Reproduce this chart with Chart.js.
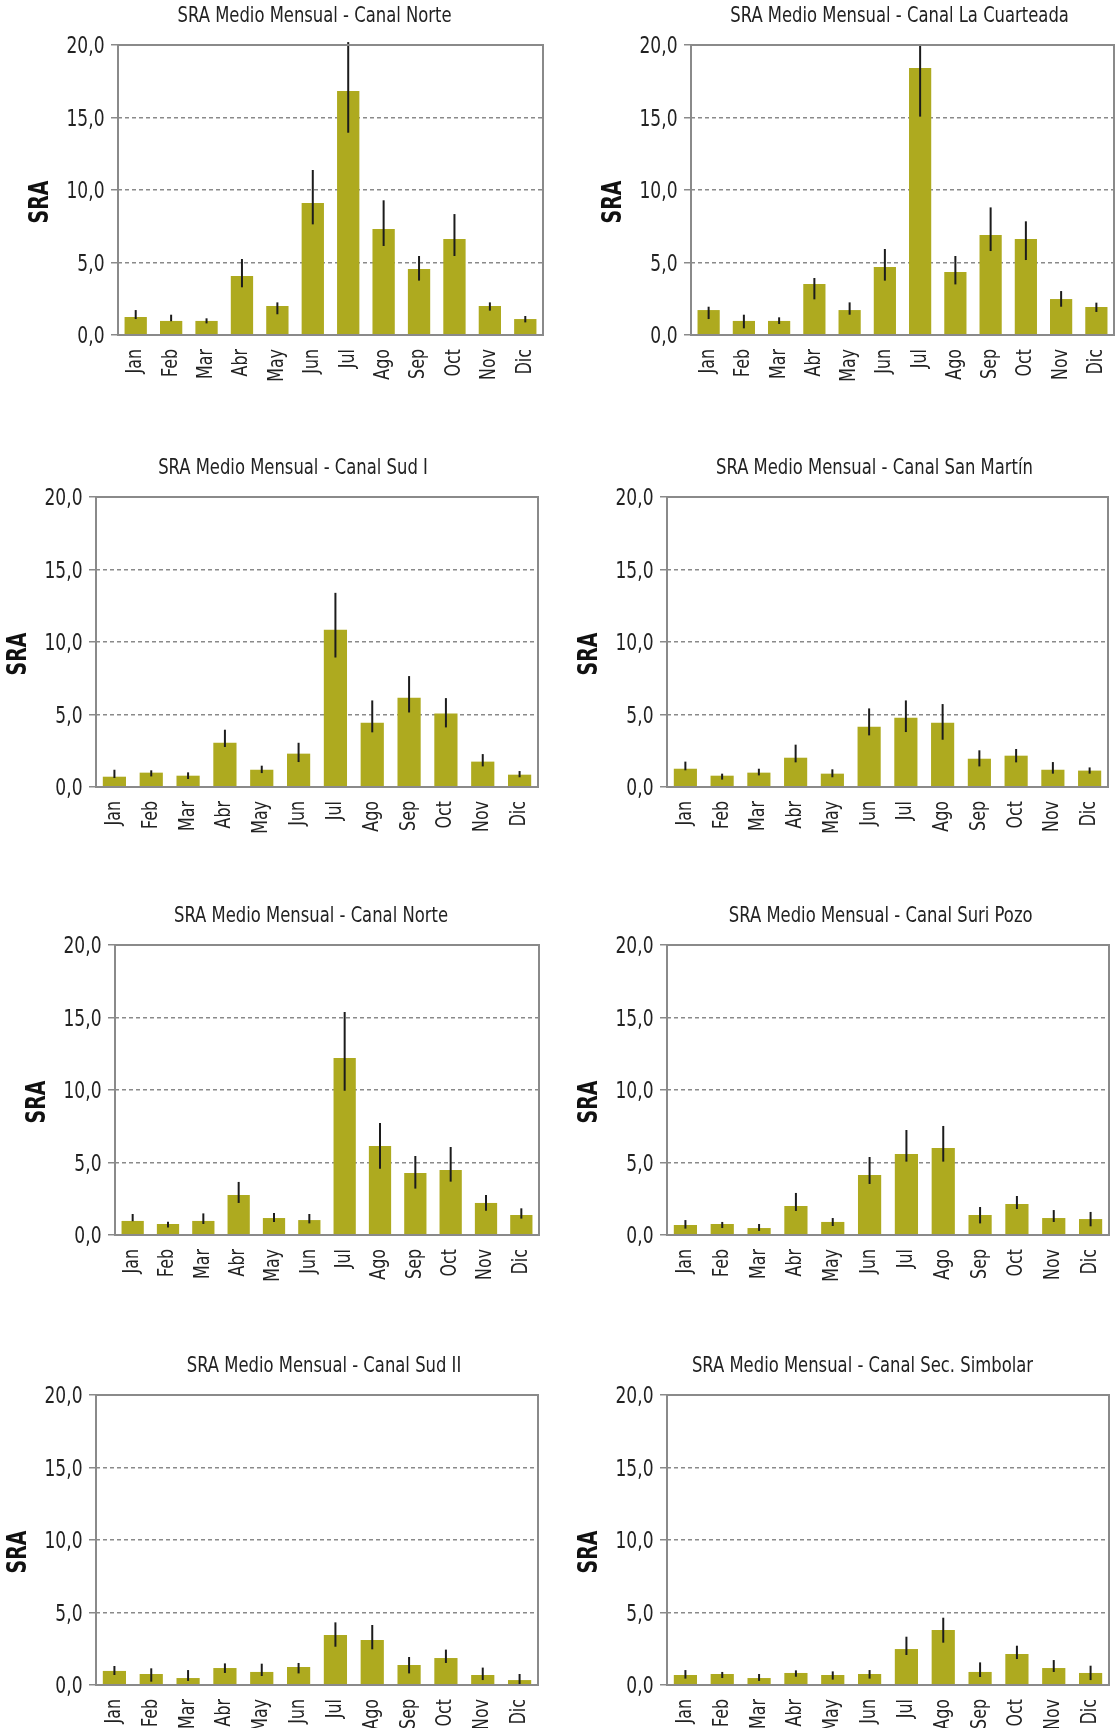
<!DOCTYPE html>
<html>
<head>
<meta charset="utf-8">
<script src="https://cdn.jsdelivr.net/npm/chart.js@4.4.1/dist/chart.umd.min.js"></script>
<style>
  html, body { margin: 0; padding: 0; background: #fff; }
  #wrap { position: relative; width: 1116px; height: 1728px; overflow: hidden; }
  canvas { position: absolute; }
</style>
</head>
<body>
<div id="wrap"></div>
<script>
// ---- data ----
const months = ['Jan', 'Feb', 'Mar', 'Abr', 'May', 'Jun', 'Jul', 'Ago', 'Sep', 'Oct', 'Nov', 'Dic'];
const yTicks = [0, 5, 10, 15, 20];

const titles = [
    'SRA Medio Mensual - Canal Norte',
    'SRA Medio Mensual - Canal La Cuarteada',
    'SRA Medio Mensual - Canal Sud I',
    'SRA Medio Mensual - Canal San Martín',
    'SRA Medio Mensual - Canal Norte',
    'SRA Medio Mensual - Canal Suri Pozo',
    'SRA Medio Mensual - Canal Sud II',
    'SRA Medio Mensual - Canal Sec. Simbolar'
];

const mediaNorte = [1.24, 0.97, 0.97, 4.07, 2.0, 9.1, 16.83, 7.31, 4.55, 6.62, 2.0, 1.10];
const altoNorte  = [1.72, 1.40, 1.15, 5.24, 2.25, 11.38, 20.2, 9.29, 5.45, 8.34, 2.25, 1.31];
const bajoNorte  = [1.10, 0.95, 0.80, 3.29, 1.43, 7.63, 13.95, 6.14, 3.75, 5.45, 1.68, 0.87];

const mediaCuarteada = [1.72, 0.97, 0.97, 3.52, 1.72, 4.69, 18.41, 4.34, 6.90, 6.62, 2.48, 1.93];
const altoCuarteada  = [1.95, 1.40, 1.22, 3.93, 2.25, 5.93, 20.0, 5.45, 8.80, 7.84, 3.03, 2.23];
const bajoCuarteada  = [1.10, 0.46, 0.76, 2.46, 1.40, 3.75, 15.06, 3.49, 5.79, 5.17, 1.95, 1.59];

const mediaSudI = [0.71, 0.99, 0.78, 3.05, 1.19, 2.30, 10.84, 4.43, 6.15, 5.07, 1.75, 0.85];
const altoSudI  = [1.19, 1.15, 1.01, 3.95, 1.47, 3.05, 13.39, 5.97, 7.65, 6.13, 2.27, 1.10];
const bajoSudI  = [0.62, 0.73, 0.55, 2.76, 0.96, 1.72, 8.93, 3.77, 5.14, 4.11, 1.42, 0.67];

const mediaSanMartin = [1.26, 0.78, 0.99, 2.02, 0.92, 4.16, 4.78, 4.43, 1.95, 2.16, 1.19, 1.13];
const altoSanMartin  = [1.75, 0.92, 1.26, 2.92, 1.22, 5.42, 5.97, 5.72, 2.53, 2.62, 1.72, 1.35];
const bajoSanMartin  = [1.15, 0.51, 0.80, 1.70, 0.67, 3.56, 3.79, 3.26, 1.42, 1.70, 0.92, 0.92];

const mediaNorte2 = [0.97, 0.76, 0.97, 2.76, 1.17, 1.03, 12.21, 6.14, 4.28, 4.48, 2.21, 1.38];
const altoNorte2  = [1.45, 0.92, 1.49, 3.66, 1.52, 1.45, 15.38, 7.72, 5.45, 6.07, 2.76, 1.84];
const bajoNorte2  = [0.95, 0.51, 0.76, 2.21, 0.90, 0.80, 9.95, 4.57, 3.20, 3.68, 1.68, 1.13];

const mediaSuriPozo = [0.69, 0.76, 0.48, 2.0, 0.90, 4.14, 5.59, 6.0, 1.38, 2.14, 1.17, 1.10];
const altoSuriPozo  = [1.03, 0.90, 0.76, 2.90, 1.17, 5.38, 7.24, 7.52, 1.93, 2.69, 1.72, 1.59];
const bajoSuriPozo  = [0.44, 0.48, 0.28, 1.66, 0.62, 3.52, 5.06, 5.06, 0.80, 1.79, 0.90, 0.60];

const mediaSudII = [0.97, 0.76, 0.48, 1.17, 0.90, 1.24, 3.45, 3.10, 1.38, 1.86, 0.69, 0.34];
const altoSudII  = [1.31, 1.15, 1.03, 1.49, 1.47, 1.52, 4.32, 4.14, 1.93, 2.44, 1.20, 0.76];
const bajoSudII  = [0.69, 0.23, 0.28, 0.83, 0.62, 0.80, 2.64, 2.46, 0.80, 1.52, 0.34, 0.0];

const mediaSimbolar = [0.69, 0.76, 0.48, 0.83, 0.69, 0.76, 2.48, 3.79, 0.90, 2.14, 1.17, 0.83];
const altoSimbolar  = [1.03, 0.90, 0.76, 1.01, 0.94, 1.03, 3.33, 4.64, 1.56, 2.71, 1.72, 1.33];
const bajoSimbolar  = [0.44, 0.48, 0.28, 0.57, 0.37, 0.44, 2.07, 2.92, 0.55, 1.79, 0.90, 0.34];

const medias = [mediaNorte, mediaCuarteada, mediaSudI, mediaSanMartin, mediaNorte2, mediaSuriPozo, mediaSudII, mediaSimbolar];
const altos  = [altoNorte, altoCuarteada, altoSudI, altoSanMartin, altoNorte2, altoSuriPozo, altoSudII, altoSimbolar];
const bajos  = [bajoNorte, bajoCuarteada, bajoSudI, bajoSanMartin, bajoNorte2, bajoSuriPozo, bajoSudII, bajoSimbolar];

// ---- layout (canvas box + plot area inside it) ----
const panels = [
    { x: 0,   y: 0,    w: 556, h: 450, l: 118, r: 543, t: 45, b: 335, tx: 314.6, ty: 16 },
    { x: 556, y: 0,    w: 560, h: 450, l: 135, r: 558, t: 45, b: 335, tx: 343.6, ty: 16 },
    { x: 0,   y: 450,  w: 556, h: 450, l: 96,  r: 538, t: 47, b: 337, tx: 293,   ty: 18 },
    { x: 556, y: 450,  w: 560, h: 450, l: 111, r: 552, t: 47, b: 337, tx: 318.5, ty: 18 },
    { x: 0,   y: 900,  w: 556, h: 450, l: 115, r: 539, t: 45, b: 335, tx: 311,   ty: 16 },
    { x: 556, y: 900,  w: 560, h: 450, l: 111, r: 553, t: 45, b: 335, tx: 324.7, ty: 16 },
    { x: 0,   y: 1350, w: 556, h: 378, l: 96,  r: 538, t: 45, b: 335, tx: 324,   ty: 16 },
    { x: 556, y: 1350, w: 560, h: 378, l: 111, r: 553, t: 45, b: 335, tx: 306.5, ty: 16 }
];

const FONT = "'Liberation Sans Narrow', 'Arial Narrow', 'DejaVu Sans Condensed', 'Liberation Sans', sans-serif";
const titleFont = '22px ' + FONT;
const tickFont = '23px ' + FONT;
const monthFont = '21px ' + FONT;
const axisFont = 'bold 26px ' + FONT;
const barColor = '#aeaa1f';
const gridColor = '#8a8a8a';
const textColor = '#222';

// the reference uses a condensed face; squeeze text horizontally to the same widths
const probe = document.createElement('canvas').getContext('2d');
function squeeze(font, text, target) {
    probe.font = font;
    return Math.min(1, target / probe.measureText(text).width);
}
let sx = null;
function initSqueeze() {
    sx = {
        title: squeeze(titleFont, titles[0], 274),
        tick: squeeze(tickFont, '20,0', 38),
        month: squeeze(monthFont, 'Feb', 28),
        axis: squeeze(axisFont, 'SRA', 43)
    };
}

function drawText(ctx, text, x, y, font, scaleX, align, rot) {
    ctx.save();
    ctx.translate(x, y);
    if (rot) ctx.rotate(rot);
    ctx.scale(scaleX, 1);
    ctx.font = font;
    ctx.textAlign = align;
    ctx.textBaseline = 'middle';
    ctx.fillText(text, 0, 0);
    ctx.restore();
}

// error bars, frame, labels, title and axis title
const panelDecor = {
    id: 'panelDecor',
    afterDatasetsDraw(chart, args, opts) {
        const ctx = chart.ctx;
        const xs = chart.scales.x, ys = chart.scales.y;
        ctx.save();
        ctx.strokeStyle = '#1c1c1c';
        ctx.lineWidth = 2;
        opts.hi.forEach((h, i) => {
            const px = xs.getPixelForValue(i);
            ctx.beginPath();
            ctx.moveTo(px, ys.getPixelForValue(h));
            ctx.lineTo(px, ys.getPixelForValue(opts.lo[i]));
            ctx.stroke();
        });
        ctx.restore();
    },
    afterDraw(chart, args, opts) {
        if (!sx) initSqueeze();
        const ctx = chart.ctx;
        const a = chart.chartArea;
        const xs = chart.scales.x, ys = chart.scales.y;
        ctx.save();
        ctx.strokeStyle = gridColor;
        ctx.lineWidth = 2;
        ctx.strokeRect(a.left, a.top, a.right - a.left, a.bottom - a.top);

        ctx.fillStyle = textColor;
        drawText(ctx, opts.title, opts.tx, opts.ty, titleFont, sx.title, 'center');

        ys.ticks.forEach(t => {
            const label = t.value.toFixed(1).replace('.', ',');
            drawText(ctx, label, a.left - 13.5, ys.getPixelForValue(t.value) + 2.5, tickFont, sx.tick, 'right');
        });

        chart.data.labels.forEach((m, i) => {
            drawText(ctx, m, xs.getPixelForValue(i), a.bottom + 14, monthFont, sx.month, 'right', -Math.PI / 2);
        });

        ctx.fillStyle = '#111';
        drawText(ctx, 'SRA', a.left - 77, a.top + 157, axisFont, sx.axis, 'center', -Math.PI / 2);
        ctx.restore();
    }
};

const wrap = document.getElementById('wrap');

panels.forEach((p, k) => {
    const cv = document.createElement('canvas');
    cv.width = p.w;
    cv.height = p.h;
    cv.style.left = p.x + 'px';
    cv.style.top = p.y + 'px';
    cv.style.width = p.w + 'px';
    cv.style.height = p.h + 'px';
    wrap.appendChild(cv);

    new Chart(cv.getContext('2d'), {
        type: 'bar',
        plugins: [panelDecor],
        data: {
            labels: months,
            datasets: [{
                label: 'SRA',
                data: medias[k],
                backgroundColor: barColor,
                borderWidth: 0,
                barPercentage: 0.63,
                categoryPercentage: 1
            }]
        },
        options: {
            responsive: false,
            animation: false,
            events: [],
            layout: {
                padding: { left: 0, top: p.t, right: p.w - p.r, bottom: 0 }
            },
            plugins: {
                legend: { display: false },
                tooltip: { enabled: false },
                title: { display: false },
                panelDecor: {
                    hi: altos[k],
                    lo: bajos[k],
                    title: titles[k],
                    tx: p.tx,
                    ty: p.ty
                }
            },
            scales: {
                x: {
                    afterFit: s => { s.height = p.h - p.b; },
                    border: { display: false },
                    grid: { display: false },
                    ticks: { display: false, autoSkip: false }
                },
                y: {
                    min: 0,
                    max: 20,
                    afterFit: s => { s.width = p.l; },
                    afterBuildTicks: s => { s.ticks = yTicks.map(v => ({ value: v })); },
                    border: { display: false, dash: [4, 3] },
                    grid: {
                        color: gridColor,
                        lineWidth: 1.5,
                        tickLength: 7,
                        tickBorderDash: []
                    },
                    ticks: { display: false }
                }
            }
        }
    });
});
</script>
</body>
</html>
